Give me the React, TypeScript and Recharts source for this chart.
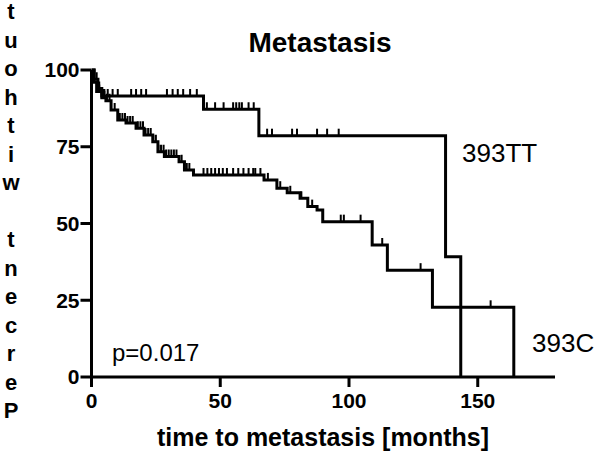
import React from "react";
import { ComposedChart, Line, Scatter, XAxis, YAxis } from "recharts";

const FONT = "'Liberation Sans', Arial, Helvetica, sans-serif";

// 393TT survival steps (months / percent)
const ttTimes = [0, 1, 2.5, 4, 43.5, 65, 137.5, 143.4];
const ttSurv = [100, 97, 94, 91.5, 87.2, 78.6, 39.2, 0];
const ttCensored = [
  2, 3, 4.5, 5, 6.3, 8.2, 10.2, 15.4, 17.3, 19.3, 21.2, 29.3, 31.5, 33.5, 35.6,
  38.3, 40.9, 44.8, 48, 51.3, 55, 56.2, 57.4, 58.4, 61, 63, 68.2, 70.1, 77.9,
  79.8, 87.6, 91.5, 96,
];

// 393C survival steps
const cTimes = [
  0, 1, 2, 4, 5.6, 7.6, 10.2, 13.4, 17.3, 20.4, 23.8, 25.8, 28.3, 34, 36.1,
  39.6, 67, 72, 76, 81, 84, 87.6, 89.8, 109, 114.9, 132.4, 164,
];
const cSurv = [
  100, 96, 93, 91, 90, 87, 83.7, 82.7, 81, 78.8, 76.6, 73.4, 71.8, 70.1, 67.4,
  65.8, 64.2, 61.5, 60, 58.2, 55.5, 54.4, 50.6, 43, 34.8, 22.7, 0,
];
const cCensored = [
  3, 5, 6, 7, 9, 11, 12, 13, 14, 15, 16, 18, 19, 20, 21, 22, 23, 24, 25, 26,
  27, 28, 29, 30, 31, 32, 33, 35, 37, 38, 43.5, 45, 46.5, 48, 49.5, 51, 52.6,
  55, 57, 59, 61, 62.8, 63.6, 65.6, 68.5, 73.3, 77.2, 81.5, 85.7, 96.8, 98,
  104.5, 112.9, 127.8, 155,
];

const xTicks = [0, 50, 100, 150];
const yTicks = [0, 25, 50, 75, 100];
const yLetters = ["t", "u", "o", "h", "t", "i", "w", " ", "t", "n", "e", "c", "r", "e", "P"];

const survAt = (times: number[], surv: number[], t: number) => {
  let v = surv[0];
  for (let i = 0; i < times.length; i++) if (times[i] <= t) v = surv[i];
  return v;
};

const ttData = ttTimes.map((t, i) => ({ t, s: ttSurv[i] }));
const cData = cTimes.map((t, i) => ({ t, s: cSurv[i] }));
const ttMarks = ttCensored.map((t) => ({ t, s: survAt(ttTimes, ttSurv, t) }));
const cMarks = cCensored.map((t) => ({ t, s: survAt(cTimes, cSurv, t) }));

const CensorMark = (props: any) => {
  const { cx, cy } = props;
  if (cx == null || cy == null) return <g />;
  return <line x1={cx} x2={cx} y1={cy} y2={cy - 7} stroke="#000" strokeWidth={2} />;
};

const tickStyle = { fill: "#000", fontSize: 21, fontWeight: 700, fontFamily: FONT };

export default function App() {
  return (
    <div style={{ position: "absolute", left: 0, top: 0, width: 600, height: 454, background: "#fff" }}>
      <ComposedChart
        width={600}
        height={454}
        margin={{ top: 70, right: 45, bottom: 47, left: 31.5 }}
      >
        <XAxis
          dataKey="t"
          type="number"
          domain={[0, 180]}
          ticks={xTicks}
          allowDataOverflow
          height={30}
          axisLine={{ stroke: "#000", strokeWidth: 3 }}
          tickLine={{ stroke: "#000", strokeWidth: 3 }}
          tickSize={10}
          tickMargin={6}
          tick={tickStyle}
        />
        <YAxis
          dataKey="s"
          type="number"
          domain={[0, 100]}
          ticks={yTicks}
          width={60}
          axisLine={{ stroke: "#000", strokeWidth: 3 }}
          tickLine={{ stroke: "#000", strokeWidth: 3 }}
          tickSize={11}
          tickMargin={1}
          tick={tickStyle}
        />
        <Line
          data={ttData}
          dataKey="s"
          type="stepAfter"
          stroke="#000"
          strokeWidth={3}
          dot={false}
          isAnimationActive={false}
        />
        <Line
          data={cData}
          dataKey="s"
          type="stepAfter"
          stroke="#000"
          strokeWidth={3}
          dot={false}
          isAnimationActive={false}
        />
        <Scatter data={ttMarks} dataKey="s" shape={CensorMark} isAnimationActive={false} />
        <Scatter data={cMarks} dataKey="s" shape={CensorMark} isAnimationActive={false} />
      </ComposedChart>
      <svg
        width={600}
        height={454}
        style={{ position: "absolute", left: 0, top: 0, pointerEvents: "none" }}
        fontFamily={FONT}
      >
        <text x={320} y={52} textAnchor="middle" fontSize={28} fontWeight={700}>
          Metastasis
        </text>
        <text x={323} y={446} textAnchor="middle" fontSize={25} fontWeight={700}>
          time to metastasis [months]
        </text>
        <text x={112} y={361} fontSize={24}>
          p=0.017
        </text>
        <text x={462} y={162} fontSize={26}>
          393TT
        </text>
        <text x={532} y={352} fontSize={26}>
          393C
        </text>
        {yLetters.map((ch, i) => (
          <text
            key={i}
            x={11}
            y={19 + i * 28.5}
            textAnchor="middle"
            fontSize={22}
            fontWeight={700}
          >
            {ch}
          </text>
        ))}
      </svg>
    </div>
  );
}
